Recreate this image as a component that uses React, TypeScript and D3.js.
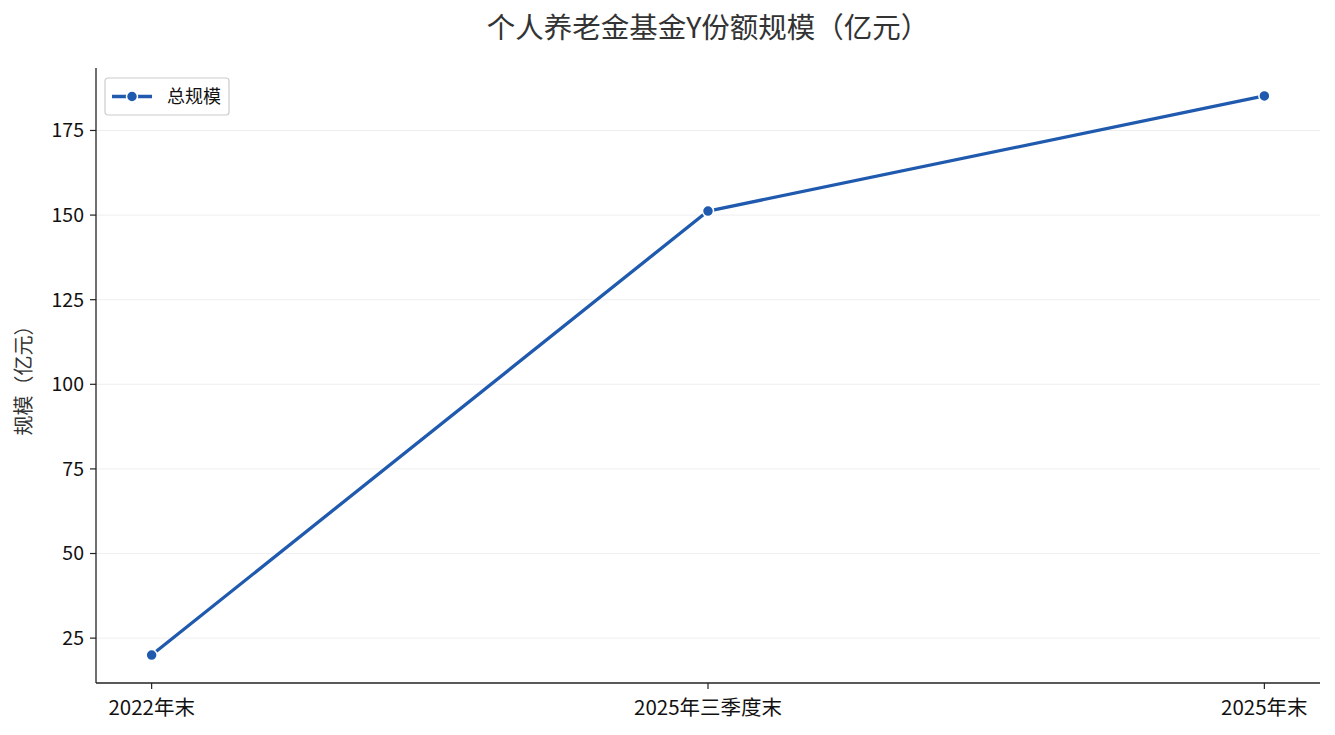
import * as d3 from "d3";

/* Data ------------------------------------------------------------- */

const categories = ["2022年末", "2025年三季度末", "2025年末"];
const totalScale = [20, 151.2, 185.2];
const yTicks = [25, 50, 75, 100, 125, 150, 175];

const TITLE = "个人养老金基金Y份额规模（亿元）";
const Y_LABEL = "规模（亿元）";
const SERIES_NAME = "总规模";

/* Theme ------------------------------------------------------------ */

const FONT = '"Noto Sans CJK SC", "Noto Sans", sans-serif';
const LINE = "#1f5aae";
const AXIS = "#222";
const GRID = "#ebebeb";

const W = 1335;
const H = 735;
const margin = { top: 68, right: 15, bottom: 52, left: 96 };

export default function App() {
  const iw = W - margin.left - margin.right;
  const ih = H - margin.top - margin.bottom;

  const x = d3
    .scaleLinear()
    .domain([-0.1, categories.length - 1 + 0.1])
    .range([0, iw]);

  const [lo, hi] = d3.extent(totalScale) as [number, number];
  const pad = (hi - lo) * 0.05;
  const y = d3
    .scaleLinear()
    .domain([lo - pad, hi + pad])
    .range([ih, 0]);

  const line = d3
    .line<number>()
    .x((_, i) => x(i))
    .y((d) => y(d));

  return (
    <div style={{ position: "fixed", left: 0, top: 0, background: "#fff" }}>
      <svg width={W} height={H} style={{ display: "block", fontFamily: FONT }}>
        <rect width={W} height={H} fill="#fff" />
        <text
          x={margin.left + iw / 2}
          y={38}
          textAnchor="middle"
          fontSize={28.5}
          fill="#333"
        >
          {TITLE}
        </text>

        <g transform={`translate(${margin.left},${margin.top})`}>
          {/* grid */}
          {yTicks.map((t) => (
            <line
              key={`g${t}`}
              x1={0}
              x2={iw}
              y1={y(t)}
              y2={y(t)}
              stroke={GRID}
              strokeWidth={0.8}
            />
          ))}

          {/* y ticks */}
          {yTicks.map((t) => (
            <g key={`y${t}`} transform={`translate(0,${y(t)})`}>
              <line x1={-6} x2={0} stroke={AXIS} strokeWidth={1.2} />
              <text
                x={-12}
                dy="0.35em"
                textAnchor="end"
                fontSize={19.5}
                fill="#111"
              >
                {t}
              </text>
            </g>
          ))}

          {/* x ticks */}
          {categories.map((c, i) => (
            <g key={c} transform={`translate(${x(i)},${ih})`}>
              <line y1={0} y2={6} stroke={AXIS} strokeWidth={1.2} />
              <text y={32} textAnchor="middle" fontSize={20.5} fill="#111">
                {c}
              </text>
            </g>
          ))}

          {/* axes spines */}
          <line x1={0} x2={0} y1={0} y2={ih} stroke={AXIS} strokeWidth={1.3} />
          <line x1={0} x2={iw} y1={ih} y2={ih} stroke={AXIS} strokeWidth={1.3} />

          {/* series */}
          <path
            d={line(totalScale) ?? ""}
            fill="none"
            stroke={LINE}
            strokeWidth={3.3}
            strokeLinejoin="round"
          />
          {totalScale.map((v, i) => (
            <circle
              key={i}
              cx={x(i)}
              cy={y(v)}
              r={5.5}
              fill={LINE}
              stroke="#fff"
              strokeWidth={1.5}
            />
          ))}

          {/* legend */}
          <g transform="translate(9,10)">
            <rect
              width={124}
              height={37}
              rx={3}
              fill="#fff"
              stroke="#cccccc"
              strokeWidth={1.2}
            />
            <line x1={7} x2={47} y1={18.5} y2={18.5} stroke={LINE} strokeWidth={3.3} />
            <circle cx={27} cy={18.5} r={5.5} fill={LINE} stroke="#fff" strokeWidth={1.5} />
            <text x={62} y={18.5} dy="0.35em" fontSize={18} fill="#111">
              {SERIES_NAME}
            </text>
          </g>
        </g>

        <text
          transform={`translate(31,${margin.top + ih / 2}) rotate(-90)`}
          textAnchor="middle"
          fontSize={20}
          fill="#333"
        >
          {Y_LABEL}
        </text>
      </svg>
    </div>
  );
}
